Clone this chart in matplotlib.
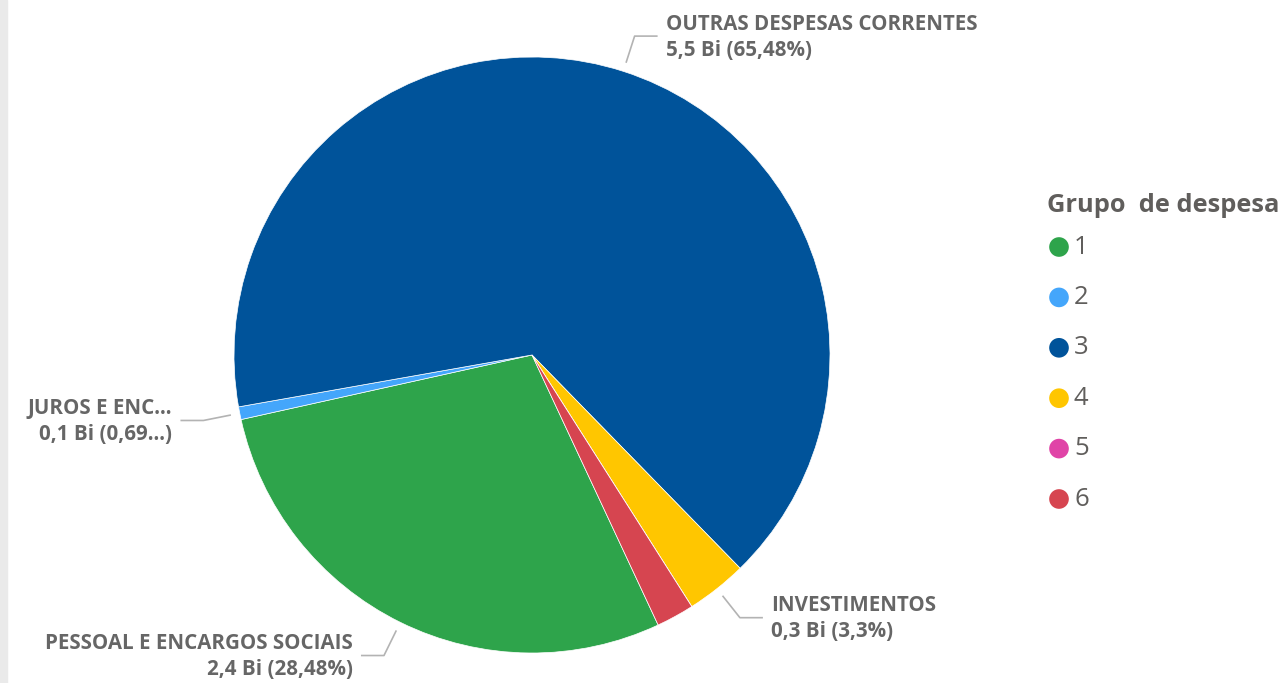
import numpy as np
import matplotlib
matplotlib.use("Agg")
import matplotlib.pyplot as plt
from matplotlib.patches import Rectangle

plt.rcParams['font.family'] = ['Open Sans', 'DejaVu Sans']

# grupos de despesa (legend order = drawing order, clockwise)
grupos = ["1", "2", "3", "4", "5", "6"]
nomes = ["PESSOAL E ENCARGOS SOCIAIS", "JUROS E ENC...", "OUTRAS DESPESAS CORRENTES",
         "INVESTIMENTOS", "", ""]
valores_bi = ["2,4", "0,1", "5,5", "0,3", "", ""]
percentuais = [28.48, 0.69, 65.48, 3.3, 0.0, 2.05]
pct_texto = ["28,48%", "0,69...", "65,48%", "3,3%", "", ""]
cores = ["#2EA44B", "#44A6FB", "#00539A", "#FFC600", "#E044A7", "#D64550"]

W, H = 1281, 683
fig = plt.figure(figsize=(W / 100, H / 100), dpi=100)
ax = fig.add_axes([0, 0, 1, 1])

fig.patches.append(Rectangle((0, 0), 7 / W, 1, transform=fig.transFigure,
                             color="#EAEAEA", zorder=0))

cx, cy, r = 532, H - 355, 298
wedges, _ = ax.pie(percentuais, colors=cores, startangle=-64.96, counterclock=False,
                   center=(cx, cy), radius=r, frame=True,
                   wedgeprops=dict(linewidth=0.5, edgecolor="white"))
ax.set_xlim(0, W)
ax.set_ylim(0, H)
ax.set_aspect('equal')
ax.axis('off')

cinza = "#666666"
for w, nome, vb, pt in zip(wedges, nomes, valores_bi, pct_texto):
    if not nome:
        continue
    ang = np.deg2rad((w.theta1 + w.theta2) / 2)
    ux, uy = np.cos(ang), np.sin(ang)
    x0, y0 = cx + (r + 9) * ux, cy + (r + 9) * uy
    x1, y1 = cx + (r + 37) * ux, cy + (r + 37) * uy
    lado = 1 if ux >= 0 else -1
    x2 = x1 + lado * 23
    ax.plot([x0, x1, x2], [y0, y1, y1], color="#B3B3B3", lw=1.2,
            solid_capstyle='butt')
    ax.text(x2 + lado * 8, y1 - 1, f"{nome}\n{vb} Bi ({pt})",
            ha='left' if lado > 0 else 'right', va='center',
            fontsize=14.8, fontweight='bold', color=cinza, linespacing=1.3,
            multialignment='left' if lado > 0 else 'right')

# legenda
ax.text(1047, H - 205, "Grupo  de despesa", ha='left', va='center',
        fontsize=18.3, fontweight='bold', color="#605E5C")
for i, (g, c) in enumerate(zip(grupos, cores)):
    y = H - (247 + i * 50.4)
    ax.scatter([1059], [y], s=200, color=c, edgecolors='none')
    ax.text(1074, y, g, ha='left', va='center', fontsize=18.5, color="#605E5C")

fig.savefig("out.png", dpi=100)
